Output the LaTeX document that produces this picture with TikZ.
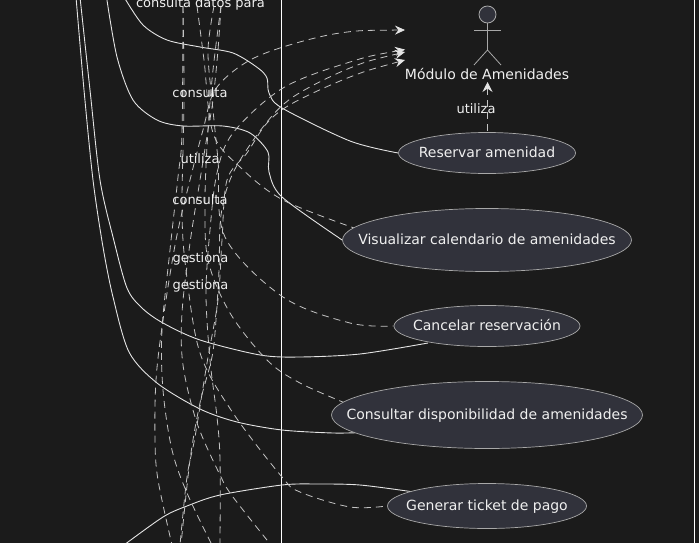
\documentclass[tikz,border=0pt]{standalone}
\usepackage{fontspec}
\setmainfont{DejaVu Sans}
\usetikzlibrary{arrows.meta,shapes.geometric,backgrounds}
\definecolor{bgc}{HTML}{1B1B1B}
\definecolor{fillc}{HTML}{31323B}
\definecolor{edgec}{HTML}{A8A8A8}
\definecolor{linec}{HTML}{E4E4E4}
\definecolor{dashc}{HTML}{C4C4C4}
\definecolor{textc}{HTML}{F0F0F0}
\newcommand{\casetext}[1]{\smash{\makebox[0pt][c]{\raisebox{-4.5pt}{#1}}}}
\tikzset{
  usecase/.style={ellipse,draw=edgec,fill=fillc,line width=.7pt,inner sep=0pt,text=textc,font=\fontsize{14}{16}\selectfont},
  solidlink/.style={draw=linec,line width=.9pt},
  dashlink/.style={draw=dashc,line width=.8pt,dash pattern=on 7pt off 5pt},
  tiplink/.style={dashlink,{Stealth[length=10pt,width=9pt,inset=3.5pt,color=linec,sep=0pt]}-},
  lbl/.style={text=textc,inner sep=0pt,font=\fontsize{13}{15}\selectfont},
  boundary/.style={draw=white,line width=1pt},
  actorline/.style={draw=edgec,line width=.8pt}
}
\begin{document}
\begin{tikzpicture}[x=1pt,y=-1pt]
\useasboundingbox (0,0) rectangle (699,543);
% use cases
\node[usecase,minimum width=177pt,minimum height=41pt] (res) at (487,153) {\casetext{Reservar amenidad}};
\node[usecase,minimum width=289pt,minimum height=63pt] (vis) at (487,240) {\casetext{Visualizar calendario de amenidades}};
\node[usecase,minimum width=186pt,minimum height=41pt] (can) at (487,326) {\casetext{Cancelar reservación}};
\node[usecase,minimum width=311pt,minimum height=67pt] (con) at (487,415) {\casetext{Consultar disponibilidad de amenidades}};
\node[usecase,minimum width=199pt,minimum height=45pt] (gen) at (487,506) {\casetext{Generar ticket de pago}};
% free ends
\coordinate (bt) at (281.5,-2); \coordinate (bb) at (281.5,545);
\coordinate (rt) at (694.5,-2); \coordinate (rb) at (694.5,545);
\coordinate (s1) at (106.5,-3); \coordinate (s2) at (124,-3); \coordinate (s3) at (76,-3); \coordinate (s4) at (80,-3); \coordinate (s5) at (124,545);
\coordinate (conend) at (362,432.5); \coordinate (canend) at (428,343); \coordinate (genend) at (414,492);
\coordinate (t1) at (183,6); \coordinate (t2) at (197,6); \coordinate (t3) at (214,6); \coordinate (t4) at (221,6);
\coordinate (a30) at (405,30); \coordinate (a50) at (405,49.5); \coordinate (a52) at (405,52); \coordinate (a60) at (405,60);
\coordinate (b1) at (172,545); \coordinate (b2) at (212,545); \coordinate (b3) at (271,545); \coordinate (b4) at (220,545); \coordinate (b5) at (181,545); \coordinate (b6) at (180,545);
\begin{scope}[on background layer]
\fill[bgc] (0,0) rectangle (699,543);
\clip (0,0) rectangle (699,543);
\draw[boundary] (bt) -- (bb);
\draw[boundary] (rt) -- (rb);
% solid associations
\draw[solidlink] plot[smooth,tension=.5] coordinates {(s2) (143,25) (167,40) (200,47) (233,53) (258,68) (267,78) (269,93) (282,108) (350,141) (res.west)};
\draw[solidlink] plot[smooth,tension=.5] coordinates {(s1) (117,57) (133,100) (157,120) (183,126) (223,126) (250,133) (268,152) (269,172) (282,197) (vis.west)};
\draw[solidlink] plot[smooth,tension=.5] coordinates {(s4) (90,90) (100,180) (113,237) (127,288) (142,308) (163,323) (200,340) (260,355) (300,357) (360,354) (canend)};
\draw[solidlink] plot[smooth,tension=.5] coordinates {(s3) (84,90) (93,180) (103,247) (113,297) (129,352) (157,383) (200,409) (237,422) (282,430) (333,433) (conend)};
\draw[solidlink] plot[smooth,tension=.5] coordinates {(s5) (163,517) (187,506) (220,495) (282,485) (317,484) (360,485) (genend)};
% dashed links to use cases
\draw[dashlink] plot[smooth,tension=.55] coordinates {(t2) (204,60) (213,133) (240,167) (283,200) (357,229)};
\draw[dashlink] plot[smooth,tension=.55] coordinates {(t3) (208,50) (212,100) (218,160) (225,237) (283,297) (350,323) (can.west)};
\draw[dashlink] plot[smooth,tension=.55] coordinates {(t4) (213,70) (208,130) (205,200) (208,260) (230,313) (267,360) (300,383) (350,405)};
\draw[dashlink] plot[smooth,tension=.55] coordinates {(t1) (184,100) (182,210) (186,270) (200,353) (233,413) (282,477) (300,492) (350,507) (gen.west)};
% dashed links towards the actor
\draw[tiplink] plot[smooth,tension=.55] coordinates {(a30) (340,33) (283,47) (245,63) (215,90) (203,130) (190,180) (176,240) (163,320) (156,380) (155,440) (158,480) (b1)};
\draw[tiplink] plot[smooth,tension=.55] coordinates {(a50) (350,62) (283,88) (233,133) (217,173) (210,230) (206,293) (210,360) (217,417) (220,460) (b4)};
\draw[tiplink] plot[smooth,tension=.55] coordinates {(a52) (350,68) (293,97) (263,127) (233,173) (221,215) (219,270) (216,320) (212,357) (200,403) (190,460) (b5)};
\draw[tiplink] plot[smooth,tension=.55] coordinates {(a60) (350,77) (293,103) (267,123) (247,153) (227,180) (222,240) (218,300) (207,363) (195,437) (187,477) (b6)};
\draw[dashlink] plot[smooth,tension=.55] coordinates {(t4) (218,50) (213,100) (208,130) (200,180) (190,243) (182,313) (183,365) (197,423) (220,475) (233,497) (b3)};
\draw[dashlink] plot[smooth,tension=.55] coordinates {(t1) (182,133) (178,177) (170,250) (162,330) (163,390) (172,450) (187,493) (b2)};
\end{scope}
% actor
\node[circle,draw=edgec,fill=fillc,line width=.8pt,minimum size=17pt,inner sep=0pt] (head) at (487.5,14.5) {};
\coordinate (sl) at (474,30); \coordinate (sr) at (501,30); \coordinate (hip) at (487.5,50); \coordinate (fl) at (474,65); \coordinate (fr) at (501,65);
\draw[actorline] (head) -- (hip);
\draw[actorline] (sl) -- (sr);
\draw[actorline] (fl) -- (hip) -- (fr);
\node[text=textc,inner sep=0pt,font=\fontsize{14}{16}\selectfont] (mod) at (487,74) {Módulo de Amenidades};
% use link
\coordinate (ut) at (487.5,82);
\draw[dashlink,{Stealth[length=10pt,width=10pt,inset=3.5pt,color=linec,sep=0pt]}-,line width=.9pt] (ut) -- (res.north -| ut);
% labels
\node[lbl] (l0) at (200.5,4) {consulta datos para};
\node[lbl] (l1) at (200,92.5) {consulta};
\node[lbl] (l2) at (200,159) {utiliza};
\node[lbl] (l3) at (200,199.5) {consulta};
\node[lbl] (l4) at (200.5,259) {gestiona};
\node[lbl] (l5) at (200.5,286) {gestiona};
\node[lbl] (l6) at (476,109) {utiliza};
\end{tikzpicture}
\end{document}
